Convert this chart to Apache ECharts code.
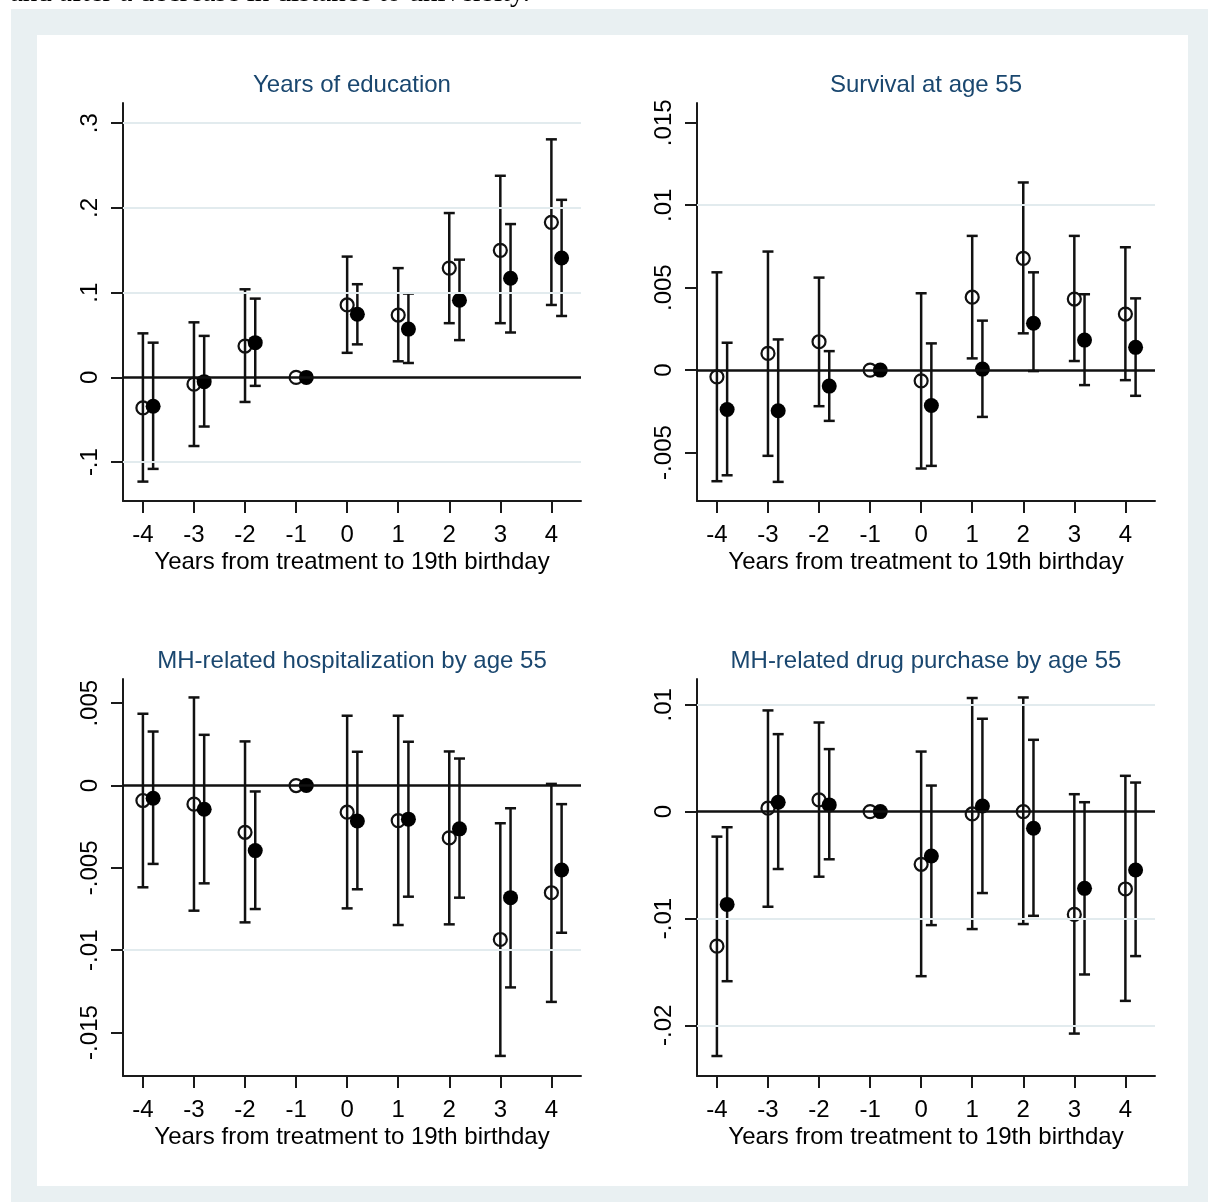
<!DOCTYPE html>
<html><head><meta charset="utf-8">
<script src="https://cdn.jsdelivr.net/npm/echarts@6/dist/echarts.min.js"></script>
<style>html,body{margin:0;padding:0;background:#fff}#c{width:1208px;height:1202px}</style>
</head><body><div id="c"></div><script>
// ---- data ----
const xTicks = [-4, -3, -2, -1, 0, 1, 2, 3, 4];
const shift = 0.2;
const titles = ['Years of education', 'Survival at age 55', 'MH-related hospitalization by age 55', 'MH-related drug purchase by age 55'];
const xName = 'Years from treatment to 19th birthday';
const topText = 'and after a decrease in distance to university.';
const xRange = [-4.39, 4.58];

const yTicks1 = [-0.1, 0, 0.1, 0.2, 0.3];
const yTicks2 = [-0.005, 0, 0.005, 0.01, 0.015];
const yTicks3 = [-0.015, -0.01, -0.005, 0, 0.005];
const yTicks4 = [-0.02, -0.01, 0, 0.01];
const yRange1 = [-0.1459, 0.3239];
const yRange2 = [-0.00794, 0.0162];
const yRange3 = [-0.01764, 0.00647];
const yRange4 = [-0.02474, 0.01241];

const edu_open    = [-0.036, -0.008, 0.037, 0, 0.0855, 0.0736, 0.129, 0.150, 0.183];
const edu_open_lo = [-0.123, -0.081, -0.029, null, 0.029, 0.019, 0.064, 0.064, 0.0855];
const edu_open_hi = [0.052, 0.065, 0.104, null, 0.1426, 0.129, 0.194, 0.238, 0.281];
const edu_fill    = [-0.034, -0.005, 0.041, 0, 0.0745, 0.057, 0.091, 0.117, 0.141];
const edu_fill_lo = [-0.108, -0.058, -0.010, null, 0.039, 0.017, 0.044, 0.053, 0.0725];
const edu_fill_hi = [0.041, 0.049, 0.093, null, 0.110, 0.099, 0.139, 0.181, 0.2096];

const surv_open    = [-0.00041, 0.00101, 0.00172, 0, -0.00065, 0.00442, 0.00678, 0.00431, 0.0034];
const surv_open_lo = [-0.00674, -0.0052, -0.00219, null, -0.00597, 0.00071, 0.00223, 0.00055, -0.00061];
const surv_open_hi = [0.00593, 0.00719, 0.00561, null, 0.00466, 0.00814, 0.01138, 0.00814, 0.00745];
const surv_fill    = [-0.00239, -0.00247, -0.00097, 0, -0.00215, 0.00006, 0.00284, 0.00182, 0.00138];
const surv_fill_lo = [-0.00638, -0.00678, -0.00308, null, -0.00581, -0.00284, -0.00006, -0.00091, -0.00156];
const surv_fill_hi = [0.00166, 0.00186, 0.00115, null, 0.00162, 0.003, 0.00593, 0.0046, 0.00435];

const hosp_open    = [-0.00091, -0.00113, -0.00284, 0, -0.00162, -0.00213, -0.00318, -0.00935, -0.00651];
const hosp_open_lo = [-0.00618, -0.0076, -0.00831, null, -0.00746, -0.00847, -0.00843, -0.01642, -0.01314];
const hosp_open_hi = [0.00436, 0.00535, 0.00268, null, 0.00424, 0.00424, 0.00207, -0.00229, 0.0001];
const hosp_fill    = [-0.00077, -0.00144, -0.00395, 0, -0.00215, -0.00204, -0.00263, -0.00681, -0.00513];
const hosp_fill_lo = [-0.00476, -0.00594, -0.0075, null, -0.0063, -0.00675, -0.00681, -0.01226, -0.00894];
const hosp_fill_hi = [0.00328, 0.00308, -0.00036, null, 0.00205, 0.00266, 0.00164, -0.00138, -0.00113];

const drug_open    = [-0.01259, 0.00032, 0.0011, 0, -0.00493, -0.00022, 0, -0.00962, -0.00724];
const drug_open_lo = [-0.02287, -0.0089, -0.00609, null, -0.0154, -0.01099, -0.01052, -0.02077, -0.01771];
const drug_open_hi = [-0.00234, 0.00947, 0.00834, null, 0.00562, 0.01063, 0.01068, 0.00163, 0.00335];
const drug_fill    = [-0.00868, 0.00088, 0.00063, 0, -0.00415, 0.00053, -0.00156, -0.00718, -0.00546];
const drug_fill_lo = [-0.01587, -0.00537, -0.00446, null, -0.01062, -0.00762, -0.00975, -0.01524, -0.01352];
const drug_fill_hi = [-0.00146, 0.00725, 0.00585, null, 0.00244, 0.00869, 0.00672, 0.00088, 0.00272];

// ---- build ----
const FONT = '"Liberation Sans", Arial, sans-serif';
const INK = '#111111';
const panels = [
  {yTicks: yTicks1, yRange: yRange1, o: edu_open, oLo: edu_open_lo, oHi: edu_open_hi, f: edu_fill, fLo: edu_fill_lo, fHi: edu_fill_hi},
  {yTicks: yTicks2, yRange: yRange2, o: surv_open, oLo: surv_open_lo, oHi: surv_open_hi, f: surv_fill, fLo: surv_fill_lo, fHi: surv_fill_hi},
  {yTicks: yTicks3, yRange: yRange3, o: hosp_open, oLo: hosp_open_lo, oHi: hosp_open_hi, f: hosp_fill, fLo: hosp_fill_lo, fHi: hosp_fill_hi},
  {yTicks: yTicks4, yRange: yRange4, o: drug_open, oLo: drug_open_lo, oHi: drug_open_hi, f: drug_fill, fLo: drug_fill_lo, fHi: drug_fill_hi}
];
const gridBoxes = [
  {left: 123, top: 103, width: 458, height: 398},
  {left: 697, top: 103, width: 458, height: 398},
  {left: 123, top: 679, width: 458, height: 397},
  {left: 697, top: 679, width: 458, height: 397}
];

function fmtY(v) {
  if (Math.abs(v) < 1e-12) return '0';
  const s = String(+v.toPrecision(6));
  return s.replace(/^(-?)0\./, '$1.');
}

function renderBar(params, api) {
  const x = api.value(0), lo = api.value(1), hi = api.value(2);
  const a = api.coord([x, hi]), b = api.coord([x, lo]);
  const h = 5.5;
  const st = {stroke: INK, lineWidth: 2.5};
  return {type: 'group', children: [
    {type: 'line', shape: {x1: a[0], y1: a[1], x2: b[0], y2: b[1]}, style: st},
    {type: 'line', shape: {x1: a[0] - h, y1: a[1], x2: a[0] + h, y2: a[1]}, style: st},
    {type: 'line', shape: {x1: b[0] - h, y1: b[1], x2: b[0] + h, y2: b[1]}, style: st}
  ]};
}

const grid = [], xAxis = [], yAxis = [], series = [], graphic = [];

graphic.push({type: 'rect', z: 0, shape: {x: 11, y: 9, width: 1197, height: 1193}, style: {fill: '#e9f0f2'}});
graphic.push({type: 'rect', z: 0, shape: {x: 37, y: 35, width: 1151, height: 1151}, style: {fill: '#ffffff'}});
graphic.push({type: 'text', z: 1, x: 10, y: 8, style: {text: topText, font: '29px "Liberation Serif", "Times New Roman", serif', fill: '#000', textAlign: 'left', textVerticalAlign: 'bottom'}});

panels.forEach((p, i) => {
  const g = gridBoxes[i];
  grid.push(Object.assign({containLabel: false}, g));
  graphic.push({type: 'text', z: 1, x: g.left + g.width / 2, y: 85 + (i >= 2 ? 576 : 0),
    style: {text: titles[i], font: '24px ' + FONT, fill: '#1a476f', textAlign: 'center', textVerticalAlign: 'middle'}});
  xAxis.push({
    gridIndex: i, type: 'value', min: xRange[0], max: xRange[1],
    axisLine: {show: true, onZero: false, lineStyle: {color: '#1a1a1a', width: 2}},
    axisTick: {show: true, length: 12, customValues: xTicks, lineStyle: {color: '#1a1a1a', width: 2}},
    axisLabel: {customValues: xTicks, margin: 22, fontSize: 24, fontFamily: FONT, color: '#000'},
    splitLine: {show: false},
    name: xName, nameLocation: 'middle', nameGap: 49,
    nameTextStyle: {fontSize: 24, fontFamily: FONT, color: '#000'}
  });
  yAxis.push({
    gridIndex: i, type: 'value', min: p.yRange[0], max: p.yRange[1],
    axisLine: {show: true, onZero: false, lineStyle: {color: '#1a1a1a', width: 2}},
    axisTick: {show: true, length: 12, customValues: p.yTicks, lineStyle: {color: '#1a1a1a', width: 2}},
    axisLabel: {customValues: p.yTicks, rotate: 90, margin: 21, fontSize: 24, fontFamily: FONT, color: '#000', formatter: fmtY},
    splitLine: {show: false}
  });
  // grid lines + zero line
  series.push({
    type: 'line', xAxisIndex: i, yAxisIndex: i, data: [], z: 1, silent: true,
    markLine: {silent: true, symbol: ['none', 'none'], label: {show: false}, animation: false,
      data: p.yTicks.map(v => v === 0
        ? {yAxis: v, lineStyle: {color: INK, width: 2.5, type: 'solid'}}
        : {yAxis: v, lineStyle: {color: '#e2ebee', width: 2, type: 'solid'}})}
  });
  const barsO = xTicks.map((x, k) => p.oLo[k] == null ? null : [x, p.oLo[k], p.oHi[k]]).filter(Boolean);
  const barsF = xTicks.map((x, k) => p.fLo[k] == null ? null : [x + shift, p.fLo[k], p.fHi[k]]).filter(Boolean);
  series.push({type: 'custom', xAxisIndex: i, yAxisIndex: i, z: 3, renderItem: renderBar, encode: {x: 0, y: [1, 2]}, data: barsO, silent: true});
  series.push({type: 'custom', xAxisIndex: i, yAxisIndex: i, z: 3, renderItem: renderBar, encode: {x: 0, y: [1, 2]}, data: barsF, silent: true});
  series.push({type: 'scatter', xAxisIndex: i, yAxisIndex: i, z: 4, symbol: 'circle', symbolSize: 13,
    itemStyle: {color: 'rgba(255,255,255,0)', borderColor: INK, borderWidth: 2.2, opacity: 1},
    data: xTicks.map((x, k) => [x, p.o[k]]), silent: true});
  series.push({type: 'scatter', xAxisIndex: i, yAxisIndex: i, z: 4, symbol: 'circle', symbolSize: 15,
    itemStyle: {color: '#000', opacity: 1},
    data: xTicks.map((x, k) => [x + shift, p.f[k]]), silent: true});
});

const chart = echarts.init(document.getElementById('c'), null, {renderer: 'canvas'});
chart.setOption({animation: false, backgroundColor: '#fff', grid, xAxis, yAxis, series, graphic});
</script></body></html>
